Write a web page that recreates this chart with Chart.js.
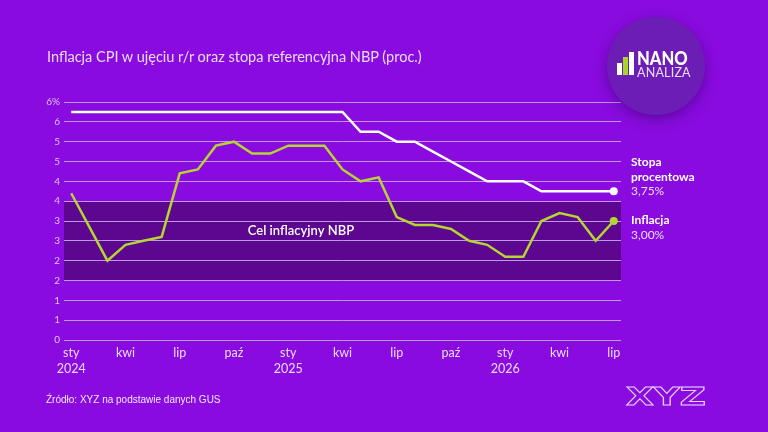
<!DOCTYPE html>
<html lang="pl">
<head>
<meta charset="utf-8">
<script src="https://cdn.jsdelivr.net/npm/chart.js@4.4.0/dist/chart.umd.min.js"></script>
<style>
  html,body{margin:0;padding:0;}
  body{width:768px;height:432px;background:#8a0be0;position:relative;overflow:hidden;font-family:Lato,"Open Sans",sans-serif;}
  #wrap{position:absolute;left:0;top:0;width:768px;height:432px;}
  .title{position:absolute;left:47px;top:48px;font-size:14.5px;color:#eadcfb;white-space:nowrap;}
  .lbl{position:absolute;left:631px;font-size:12px;line-height:14.5px;color:#fff;white-space:nowrap;}
  .lbl b{font-weight:700;}
  .lbl span{color:#eadcfb;}
  .src{position:absolute;left:46px;top:394px;font-family:"Liberation Sans Narrow","Liberation Sans",sans-serif;font-size:10px;color:#f0e6ff;white-space:nowrap;}
  .logo{position:absolute;left:607px;top:17px;width:98px;height:98px;border-radius:50%;background:#6c1db5;box-shadow:0 4px 14px rgba(40,0,80,0.45);}
  .bar{position:absolute;bottom:40px;width:5px;}
  .nano{position:absolute;left:30px;top:32px;font-size:18px;font-weight:900;color:#fff;letter-spacing:0px;line-height:18px;transform:scaleX(0.92);transform-origin:left;}
  .analiza{position:absolute;left:30px;top:49px;font-size:12.5px;color:#eadcfb;line-height:13px;letter-spacing:0.2px;}
  svg.xyz{position:absolute;left:624px;top:383px;}
</style>
</head>
<body>
<div id="wrap"><canvas id="c" width="768" height="432"></canvas></div>
<div class="title">Inflacja CPI w ujęciu r/r oraz stopa referencyjna NBP (proc.)</div>
<div class="logo">
  <div class="bar" style="left:10px;height:12px;background:#fff;"></div>
  <div class="bar" style="left:16px;height:18px;background:#a8d42c;"></div>
  <div class="bar" style="left:22px;height:23px;background:#fff;"></div>
  <div class="nano">NANO</div>
  <div class="analiza">ANALIZA</div>
</div>
<div class="lbl" style="top:155px;"><b>Stopa</b><br><b>procentowa</b><br><span>3,75%</span></div>
<div class="lbl" style="top:213px;"><b>Inflacja</b><br><span>3,00%</span></div>
<div class="src">Źródło: XYZ na podstawie danych GUS</div>
<svg class="xyz" width="86" height="26" viewBox="0 0 86 26">
  <text x="2" y="22" textLength="80" lengthAdjust="spacingAndGlyphs" font-family="DejaVu Sans" font-weight="bold" font-size="25" fill="none" stroke="#e6d2ff" stroke-width="0.9">XYZ</text>
</svg>
<script>
// ---- data ----
const months = ['sty 2024','lut','mar','kwi','maj','cze','lip','sie','wrz','paź','lis','gru',
  'sty 2025','lut','mar','kwi','maj','cze','lip','sie','wrz','paź','lis','gru',
  'sty 2026','lut','mar','kwi','maj','cze','lip'];
const inflation = [3.7,2.85,2.0,2.4,2.5,2.6,4.2,4.3,4.9,5.0,4.7,4.7,
  4.9,4.9,4.9,4.3,4.0,4.1,3.1,2.9,2.9,2.8,2.5,2.4,
  2.1,2.1,3.0,3.2,3.1,2.5,3.0];
const refRate = [5.75,5.75,5.75,5.75,5.75,5.75,5.75,5.75,5.75,5.75,5.75,5.75,
  5.75,5.75,5.75,5.75,5.25,5.25,5.0,5.0,4.75,4.5,4.25,4.0,
  4.0,4.0,3.75,3.75,3.75,3.75,3.75];
const xTickPositions = [0,3,6,9,12,15,18,21,24,27,30];
const xTickLabels = [['sty','2024'],'kwi','lip','paź',['sty','2025'],'kwi','lip','paź',['sty','2026'],'kwi','lip'];
const targetLow = 1.5, targetHigh = 3.5;
const targetLabel = 'Cel inflacyjny NBP';

const toXY = arr => arr.map((v,i)=>({x:i,y:v}));
const lastIdx = months.length-1;

const bandPlugin = {
  id:'band',
  beforeDraw(chart){
    const {ctx, chartArea:a, scales:{y}} = chart;
    ctx.save();
    ctx.fillStyle = '#5d068f';
    const t = y.getPixelForValue(targetHigh), b = y.getPixelForValue(targetLow);
    ctx.fillRect(a.left, t, a.right-a.left, b-t);
    ctx.restore();
  },
  afterDatasetsDraw(chart){
    const {ctx, scales:{x,y}} = chart;
    ctx.save();
    ctx.fillStyle = '#ffffff';
    ctx.font = '600 13px Lato';
    ctx.textAlign = 'center';
    ctx.textBaseline = 'middle';
    ctx.fillText(targetLabel, x.getPixelForValue(12.7), y.getPixelForValue(2.75));
    ctx.restore();
  }
};

new Chart(document.getElementById('c'), {
  type:'line',
  data:{
    datasets:[
      {label:'Stopa procentowa', data:toXY(refRate), borderColor:'#ffffff', backgroundColor:'#ffffff',
       borderWidth:2.5, pointRadius:c=>c.dataIndex===lastIdx?4:0, pointBorderWidth:0, tension:0},
      {label:'Inflacja', data:toXY(inflation), borderColor:'#b4d532', backgroundColor:'#b4d532',
       borderWidth:2.5, pointRadius:c=>c.dataIndex===lastIdx?4:0, pointBorderWidth:0, tension:0}
    ]
  },
  options:{
    responsive:false, animation:false,
    layout:{padding:{left:0,top:102,right:147,bottom:0}},
    plugins:{legend:{display:false}, tooltip:{enabled:false}},
    scales:{
      x:{type:'linear', min:-0.4, max:30.4,
        afterBuildTicks:s=>{s.ticks = xTickPositions.map(v=>({value:v}));},
        afterFit:s=>{s.height = 92;},
        grid:{display:false, drawTicks:false}, border:{display:false},
        ticks:{padding:5, color:'#eadcfb', font:{family:'Lato', size:12.5, lineHeight:1.3},
          callback:(v)=>{const i = xTickPositions.indexOf(v); return i>=0 ? xTickLabels[i] : '';}, maxRotation:0, autoSkip:false}
      },
      y:{min:0, max:6,
        afterFit:s=>{s.width = 64;},
        grid:{color:'#be96ea', lineWidth:1, drawTicks:false}, border:{display:false},
        ticks:{stepSize:0.5, padding:4, color:'#dcc6f6', font:{family:'Lato', size:10},
          callback:v=> v===6 ? '6%' : String(Math.round(v))}
      }
    }
  },
  plugins:[bandPlugin]
});
</script>
</body>
</html>
